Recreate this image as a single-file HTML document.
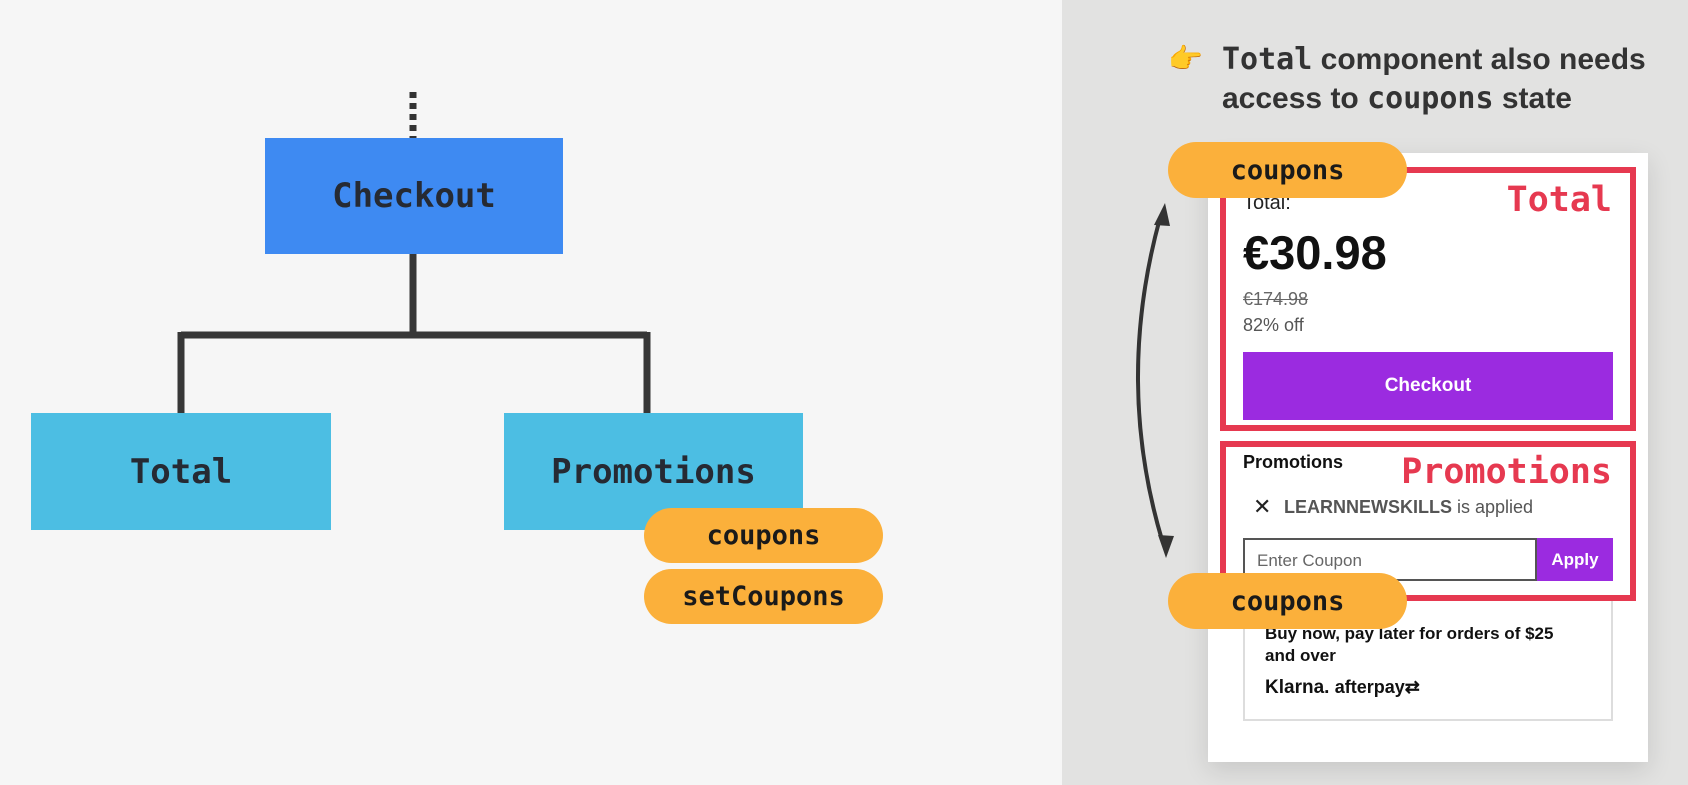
<!DOCTYPE html>
<html><head><meta charset="utf-8"><style>
*{margin:0;padding:0;box-sizing:border-box}
body{width:1688px;height:785px;position:relative;overflow:hidden;background:#f6f6f6;font-family:"Liberation Sans",sans-serif}
.a{position:absolute}
.mono{font-family:"DejaVu Sans Mono","Liberation Mono",monospace}
.box{display:flex;align-items:center;justify-content:center;color:#262a33;font-size:34px;font-weight:bold}
.pill{background:#fbb03b;border-radius:28px;display:flex;align-items:center;justify-content:center;font-weight:bold;color:#1a1a1a;font-size:27px}
</style></head><body>
<div class="a" style="left:1062px;top:0;width:626px;height:785px;background:#e2e2e1"></div>
<svg class="a" style="left:0;top:0" width="1688" height="785">
<line x1="413" y1="92" x2="413" y2="138" stroke="#333" stroke-width="7" stroke-dasharray="6,5"/>
<path d="M413 254 V335 M181 335 H647 M181 332 V413 M647 332 V413" stroke="#373737" stroke-width="7" fill="none"/>
</svg>
<div class="a box mono" style="left:265px;top:138px;width:298px;height:116px;background:#3e8af2">Checkout</div>
<div class="a box mono" style="left:31px;top:413px;width:300px;height:117px;background:#4cbee3">Total</div>
<div class="a box mono" style="left:504px;top:413px;width:299px;height:117px;background:#4cbee3">Promotions</div>
<div class="a pill mono" style="left:644px;top:508px;width:239px;height:55px">coupons</div>
<div class="a pill mono" style="left:644px;top:569px;width:239px;height:55px">setCoupons</div>

<div class="a" style="left:1168px;top:42px;font-size:28px">👉</div>
<div class="a" style="left:1222px;top:40px;font-size:30px;font-weight:bold;color:#333;line-height:39px"><span class="mono">Total</span> component also needs<br>access to <span class="mono">coupons</span> state</div>

<div class="a" style="left:1208px;top:153px;width:440px;height:609px;background:#fff;box-shadow:0 8px 24px rgba(0,0,0,0.12)"></div>
<div class="a" style="left:1220px;top:167px;width:416px;height:264px;border:6px solid #e63950"></div>
<div class="a" style="left:1243px;top:192px;font-size:20px;color:#222">Total:</div>
<div class="a mono" style="right:76px;top:180px;font-size:35px;font-weight:bold;color:#e63950">Total</div>
<div class="a" style="left:1243px;top:225px;font-size:47px;font-weight:bold;color:#111">€30.98</div>
<div class="a" style="left:1243px;top:289px;font-size:18px;color:#666;text-decoration:line-through">€174.98</div>
<div class="a" style="left:1243px;top:315px;font-size:18px;color:#555">82% off</div>
<div class="a" style="left:1243px;top:352px;width:370px;height:68px;background:#9b2be0;color:#fff;font-weight:bold;font-size:19px;display:flex;align-items:center;justify-content:center">Checkout</div>

<div class="a" style="left:1220px;top:441px;width:416px;height:160px;border:6px solid #e63950"></div>
<div class="a" style="left:1243px;top:452px;font-size:18px;font-weight:bold;color:#111">Promotions</div>
<div class="a mono" style="right:76px;top:452px;font-size:35px;font-weight:bold;color:#e63950">Promotions</div>
<div class="a" style="left:1253px;top:494px;font-size:22px;color:#222">✕</div>
<div class="a" style="left:1284px;top:497px;font-size:18px;color:#555"><b>LEARNNEWSKILLS</b> is applied</div>
<div class="a" style="left:1243px;top:538px;width:294px;height:43px;border:2px solid #555;font-size:17px;color:#666;padding:11px 12px">Enter Coupon</div>
<div class="a" style="left:1537px;top:538px;width:76px;height:43px;background:#9b2be0;color:#fff;font-weight:bold;font-size:17px;display:flex;align-items:center;justify-content:center">Apply</div>

<div class="a" style="left:1243px;top:601px;width:370px;height:120px;border:2px solid #ddd;border-top:none"></div>
<div class="a" style="left:1265px;top:623px;font-size:17px;font-weight:bold;color:#111;line-height:22px">Buy now, pay later for orders of $25<br>and over</div>
<div class="a" style="left:1265px;top:677px;font-size:19px;font-weight:bold;color:#111">Klarna. <span style="font-size:18px">afterpay⇄</span></div>

<div class="a pill mono" style="left:1168px;top:142px;width:239px;height:56px">coupons</div>
<div class="a pill mono" style="left:1168px;top:573px;width:239px;height:56px">coupons</div>

<svg class="a" style="left:0;top:0" width="1688" height="785">
<path d="M1160 218 Q1115 382 1162 540" stroke="#333" stroke-width="4" fill="none"/>
<polygon points="1165,203 1154,225 1170,226" fill="#333"/>
<polygon points="1166,558 1158,535 1174,536" fill="#333"/>
</svg>
</body></html>
